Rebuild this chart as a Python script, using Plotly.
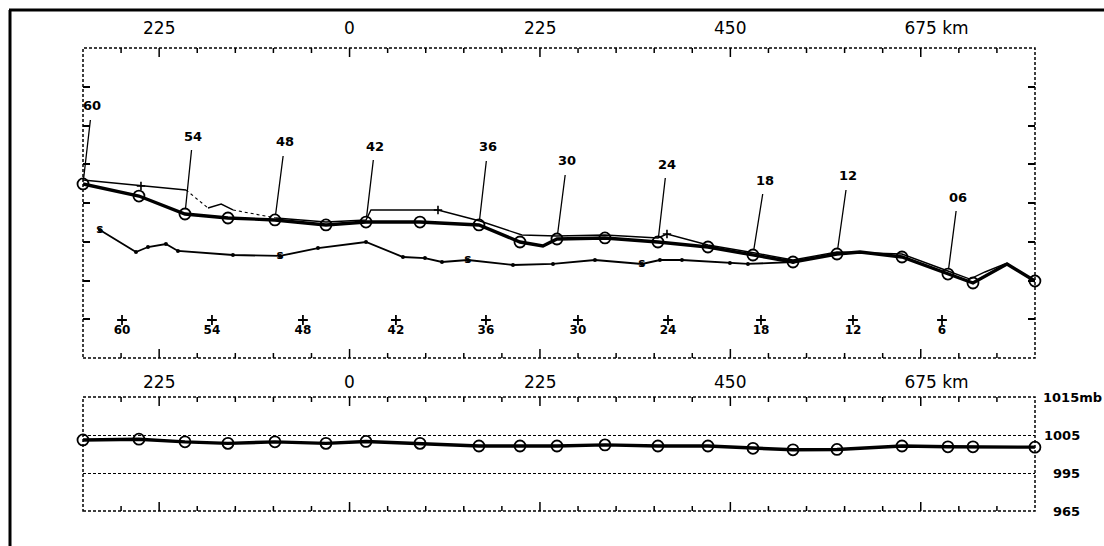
import plotly.graph_objects as go

# ---------------------------------------------------------------------------
# Storm fixes, 3-hourly, labelled by hours before the final position.
# Positions are along-track / cross-track distances in km; pressure in mb.
# ---------------------------------------------------------------------------
fix_hour = [60, 57, 54, 51, 48, 45, 42, 39, 36, 33, 30, 27, 24, 21, 18, 15, 12, 9, 6, 3, 0]
fix_x_km = [-315.0, -248.9, -194.5, -143.7, -88.2, -27.9, 19.4, 83.2, 152.9, 201.4, 245.1,
            301.8, 364.4, 423.5, 476.7, 524.0, 576.0, 652.8, 707.1, 736.7, 809.9]
fix_y_km = [202.1, 188.1, 167.2, 162.6, 160.3, 154.5, 157.9, 157.9, 154.5, 134.7, 138.2,
            139.4, 134.7, 128.9, 119.6, 111.5, 120.8, 117.3, 97.5, 87.1, 89.4]
fix_pressure_mb = [1003.7, 1003.9, 1003.2, 1002.8, 1003.2, 1002.8, 1003.3, 1002.8, 1002.1, 1002.1, 1002.1,
                   1002.4, 1002.1, 1002.1, 1001.5, 1001.1, 1001.2, 1002.1, 1001.9, 1001.9, 1001.8]

# Best-track path: the fixes plus a few intermediate vertices
best_path_x = [-315.0, -248.9, -194.5, -143.7, -88.2, -27.9, 19.4, 83.2, 152.9, 201.4, 228.5, 245.1,
               301.8, 364.4, 423.5, 476.7, 524.0, 576.0, 603.2, 652.8, 707.1, 736.7, 776.9, 809.9]
best_path_y = [202.1, 188.1, 167.2, 162.6, 160.3, 154.5, 157.9, 157.9, 154.5, 134.7, 130.1, 138.2,
               139.4, 134.7, 128.9, 119.6, 111.5, 120.8, 123.1, 117.3, 97.5, 87.1, 109.2, 89.4]

# Second (aircraft) analysis track; None breaks where the segment is uncertain
alt_x = [-315.0, -246.5, -193.3, None, -167.3, -151.7, -137.8, None, -87.0, -27.9, 19.4, 25.3, 104.5,
         154.1, 203.7, 245.1, 301.8, 364.4, 375.1, 423.5, 479.1, 524.0, 576.0, 652.8, 707.1, 733.1,
         750.9, 774.5]
alt_y = [206.7, 199.7, 195.1, None, 174.2, 178.8, 171.9, None, 162.6, 157.9, 160.3, 171.9, 171.9,
         159.1, 142.8, 141.7, 142.8, 139.4, 144.0, 131.2, 121.9, 113.8, 123.1, 120.8, 101.0, 91.7,
         99.9, 109.2]
# uncertain segments of the same track
alt_gap_x = [-193.3, -167.3, None, -137.8, -87.0]
alt_gap_y = [195.1, 174.2, None, 171.9, 162.6]
alt_cross_x = [-246.5, 104.5, 375.1]
alt_cross_y = [199.7, 171.9, 144.0]

# Surface centre track
sfc_x = [-295.0, -252.4, -238.2, -217.0, -202.8, -137.8, -82.2, -37.3, 19.4, 63.1, 89.1, 109.2,
         139.9, 193.1, 240.4, 290.0, 345.5, 366.8, 392.8, 449.5, 470.8, 524.0]
sfc_y = [148.6, 123.1, 128.9, 132.4, 124.3, 119.6, 118.5, 127.7, 134.7, 117.3, 116.1, 111.5,
         113.8, 108.0, 109.2, 113.8, 109.2, 113.8, 113.8, 110.3, 109.2, 111.5]
sfc_glyph = ["s", "", "", "", "", "", "s", "", "", "", "", "",
             "s", "", "", "", "s", "", "", "", "", ""]

# Time marks along the lower edge of the track panel
time_mark_x = [-268.9, -162.6, -55.1, 54.8, 161.2, 269.9, 376.3, 486.2, 594.9, 700.1]
time_mark_y = [44.1, 44.1, 44.1, 44.1, 44.1, 44.1, 44.1, 44.1, 44.1, 44.1]
time_mark_text = ["60", "54", "48", "42", "36", "30", "24", "18", "12", "6"]

# Hour labels with leader lines to the fixes
leader_hours = [60, 54, 48, 42, 36, 30, 24, 18, 12, 6]
leader_text = ["60", "54", "48", "42", "36", "30", "24", "18", "12", "06"]

# Axis labelling
dist_ticks = [-225, 0, 225, 450, 675]
dist_tick_text = ["225", "0", "225", "450", "\u00a0" * 6 + "675 km"]
dist_minor_step = 45
cross_ticks = [45, 90, 135, 180, 225, 270, 315]
pressure_ticks = [1015, 1005, 995, 985]
pressure_tick_text = ["1015mb", "1005", "995", "965"]

# ---------------------------------------------------------------------------
W, H = 1104, 546
px_x = lambda p: p / W
px_y = lambda p: 1 - p / H

X_DOM = [px_x(83), px_x(1035)]
TOP_DOM = [px_y(358), px_y(48)]
LOW_DOM = [px_y(511), px_y(397)]
X_RANGE = [-315, 810]
Y_RANGE = [0, 360]
P_RANGE = [985, 1015]
TOP_H = 358 - 48      # panel heights in px
LOW_H = 511 - 397

BLACK = "#000000"
FONT = "DejaVu Sans"

fig = go.Figure()

# --- track panel ---
fig.add_trace(go.Scatter(x=sfc_x, y=sfc_y, mode="lines+markers+text", text=sfc_glyph,
                         textposition="middle center",
                         textfont=dict(family=FONT, size=12, color=BLACK, weight="bold"),
                         line=dict(color=BLACK, width=1.8),
                         marker=dict(size=4, color=BLACK),
                         xaxis="x", yaxis="y", hoverinfo="skip"))
fig.add_trace(go.Scatter(x=alt_x, y=alt_y, mode="lines",
                         line=dict(color=BLACK, width=1.4),
                         xaxis="x", yaxis="y", hoverinfo="skip"))
fig.add_trace(go.Scatter(x=alt_gap_x, y=alt_gap_y, mode="lines",
                         line=dict(color=BLACK, width=1.1, dash="3px,3px"),
                         xaxis="x", yaxis="y", hoverinfo="skip"))
fig.add_trace(go.Scatter(x=alt_cross_x, y=alt_cross_y, mode="markers",
                         marker=dict(symbol="cross-thin", size=6, color=BLACK,
                                     line=dict(color=BLACK, width=1.6)),
                         xaxis="x", yaxis="y", hoverinfo="skip"))
fig.add_trace(go.Scatter(x=best_path_x, y=best_path_y, mode="lines",
                         line=dict(color=BLACK, width=3.4),
                         xaxis="x", yaxis="y", hoverinfo="skip"))
fig.add_trace(go.Scatter(x=fix_x_km, y=fix_y_km, mode="markers",
                         marker=dict(symbol="circle-open", size=11, color=BLACK,
                                     line=dict(color=BLACK, width=1.8)),
                         xaxis="x", yaxis="y", cliponaxis=False, hoverinfo="skip"))
fig.add_trace(go.Scatter(x=time_mark_x, y=time_mark_y, mode="markers+text", text=time_mark_text,
                         textposition="bottom center",
                         textfont=dict(family=FONT, size=12, color=BLACK, weight="bold"),
                         marker=dict(symbol="cross-thin", size=7, color=BLACK,
                                     line=dict(color=BLACK, width=1.8)),
                         xaxis="x", yaxis="y", hoverinfo="skip"))

# --- pressure panel ---
fig.add_trace(go.Scatter(x=fix_x_km, y=fix_pressure_mb, mode="lines+markers",
                         line=dict(color=BLACK, width=3.4),
                         marker=dict(symbol="circle-open", size=11, color=BLACK,
                                     line=dict(color=BLACK, width=1.8)),
                         xaxis="x2", yaxis="y2", cliponaxis=False, hoverinfo="skip"))

# empty trace so that the right-hand tick axis gets a subplot to draw on
fig.add_trace(go.Scatter(x=[], y=[], mode="lines", xaxis="x", yaxis="y3",
                         hoverinfo="skip", showlegend=False))

annotations = []

# distance labels above each panel
for label_y in (px_y(28), px_y(382)):
    for v, t in zip(dist_ticks, dist_tick_text):
        annotations.append(dict(x=v, y=label_y, xref="x", yref="paper", text=t,
                                showarrow=False, xanchor="center", yanchor="middle",
                                font=dict(family=FONT, size=17, color=BLACK)))

# leader lines and hour labels
leader_offsets = [(9, -78), (8, -78), (10, -78), (9, -76), (9, -78),
                  (10, -78), (9, -78), (12, -75), (11, -78), (10, -77)]
for h, label, (dx, dy) in zip(leader_hours, leader_text, leader_offsets):
    i = fix_hour.index(h)
    annotations.append(dict(x=fix_x_km[i], y=fix_y_km[i], xref="x", yref="y",
                            text=label, showarrow=True, arrowhead=0, arrowwidth=1.3,
                            arrowcolor=BLACK, ax=dx, ay=dy, standoff=5, borderpad=6,
                            font=dict(family=FONT, size=13, color=BLACK, weight="bold")))

# pressure scale labels on the right
for v, t in zip(pressure_ticks, pressure_tick_text):
    if t.endswith("mb"):
        annotations.append(dict(x=px_x(1041), y=v, xref="paper", yref="y2", text=t,
                                showarrow=False, xanchor="left", yanchor="middle",
                                font=dict(family=FONT, size=13, color=BLACK, weight="bold")))
    else:
        annotations.append(dict(x=px_x(1082), y=v, xref="paper", yref="y2", text=t,
                                showarrow=False, xanchor="right", yanchor="middle",
                                font=dict(family=FONT, size=13, color=BLACK, weight="bold")))

dotted = dict(color=BLACK, width=1.5, dash="3px,2px")
shapes = [
    dict(type="rect", xref="x domain", yref="y domain", x0=0, x1=1, y0=0, y1=1, line=dotted, layer="below"),
    dict(type="rect", xref="x2 domain", yref="y2 domain", x0=0, x1=1, y0=0, y1=1, line=dotted, layer="below"),
    # outer frame
    dict(type="line", xref="paper", yref="paper", x0=px_x(10), x1=px_x(10), y0=0, y1=px_y(10),
         line=dict(color=BLACK, width=3)),
    dict(type="line", xref="paper", yref="paper", x0=px_x(9), x1=1, y0=px_y(10), y1=px_y(10),
         line=dict(color=BLACK, width=3)),
]


# inward distance ticks on the top and bottom edge of both panels:
# every 45 km, longer at the labelled 225 km marks
def edge_tick_shapes(xref, yref, panel_h, major_px, minor_px):
    out = []
    v = X_RANGE[0] + dist_minor_step
    while v < X_RANGE[1]:
        frac = (major_px if v in dist_ticks else minor_px) / panel_h
        for y0, y1 in ((1, 1 - frac), (0, frac)):
            out.append(dict(type="line", xref=xref, yref=yref, x0=v, x1=v, y0=y0, y1=y1,
                            layer="above", line=dict(color=BLACK, width=1.5)))
        v += dist_minor_step
    return out

shapes += edge_tick_shapes("x", "y domain", TOP_H, 9, 5)
shapes += edge_tick_shapes("x2", "y2 domain", LOW_H, 9, 5)

plain = dict(showline=False, showgrid=False, zeroline=False)

def dist_base(anchor):
    return dict(plain, range=X_RANGE, domain=X_DOM, side="top", anchor=anchor,
                ticks="", showticklabels=False)

def cross_edge(side, overlay=None):
    ax = dict(plain, range=Y_RANGE, side=side, anchor="x",
              tickmode="array", tickvals=cross_ticks, ticks="inside", ticklen=7,
              tickwidth=1.5, tickcolor=BLACK, showticklabels=False)
    if overlay:
        ax["overlaying"] = overlay
    else:
        ax["domain"] = TOP_DOM
    return ax

fig.update_layout(
    width=W, height=H, margin=dict(l=0, r=0, t=0, b=0),
    paper_bgcolor="white", plot_bgcolor="white", showlegend=False,
    xaxis=dist_base("y"),
    yaxis=cross_edge("left"),
    yaxis3=cross_edge("right", overlay="y"),
    xaxis2=dist_base("y2"),
    yaxis2=dict(plain, range=P_RANGE, domain=LOW_DOM, anchor="x2",
                tickmode="array", tickvals=[995, 1005], showticklabels=False, ticks="",
                showgrid=True, gridcolor=BLACK, gridwidth=1.2, griddash="3px,2px"),
    annotations=annotations, shapes=shapes,
)

fig.write_html("out.html")
